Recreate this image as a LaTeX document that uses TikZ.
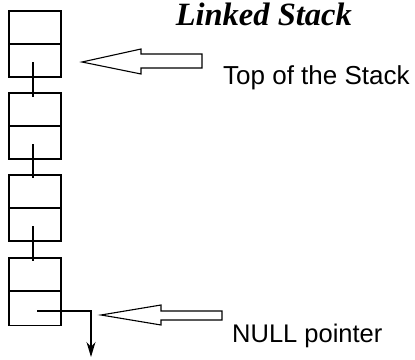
\documentclass[tikz,border=0pt]{standalone}
\usepackage{fontspec}
\setmainfont{Liberation Serif}
\newfontfamily\arialf{Liberation Sans}
\usetikzlibrary{arrows.meta}
\tikzset{
  cell/.style={draw, line width=1.3pt, minimum width=52pt, minimum height=33pt, inner sep=0pt, outer sep=0pt},
  link/.style={line width=1.3pt},
  blockarrow/.style={draw, line width=1.1pt, fill=white, line join=miter},
  lbl/.style={anchor=base west, inner sep=0pt, font=\arialf\fontsize{25.5}{25.5}\selectfont},
  ttl/.style={anchor=base east, inner sep=0pt, font=\bfseries\itshape\fontsize{32.5}{32.5}\selectfont}
}
\begin{document}
\begin{tikzpicture}[x=1pt,y=-1pt]
\useasboundingbox (0,0) rectangle (415,359);
% stack cells
\node[cell] (d1) at (35,27.5) {};
\node[cell] (p1) at (35,60.5) {};
\node[cell] (d2) at (35,109.5) {};
\node[cell] (p2) at (35,142.5) {};
\node[cell] (d3) at (35,191.5) {};
\node[cell, line width=1.8pt] (p3) at (35,224.5) {};
\node[cell] (d4) at (35,274.5) {};
\node[cell, minimum height=34pt] (p4) at (35,308.5) {};
% links
\draw[link] ([xshift=-2pt,yshift=-1.5pt]p1.center) -- ([xshift=-2pt,yshift=-4pt]d2.north);
\draw[link] ([xshift=-2pt,yshift=-1.5pt]p2.center) -- ([xshift=-2pt,yshift=-3pt]d3.north);
\draw[link] ([xshift=-2pt,yshift=-1.5pt]p3.center) -- ([xshift=-2pt,yshift=-3pt]d4.north);
\coordinate (nullstart) at (37,311);
\coordinate (nullend) at (91,357);
\draw[link, -{Stealth[length=15pt,width=9pt]}] (nullstart) -| (nullend);
% block arrows
\draw[blockarrow] (82,62) -- (141,49) -- (141,54) -- (202,54) -- (202,68) -- (141,68) -- (141,74) -- cycle;
\draw[blockarrow] (101,315) -- (161,305) -- (161,311) -- (222,311) -- (222,320) -- (161,320) -- (161,325) -- cycle;
% texts
\node[ttl] (title) at (352,25) {Linked Stack};
\node[lbl, font=\arialf\fontsize{26}{26}\selectfont] (top) at (223,84) {Top of the Stack};
\node[lbl] (null) at (232,342) {NULL pointer};
\end{tikzpicture}
\end{document}
